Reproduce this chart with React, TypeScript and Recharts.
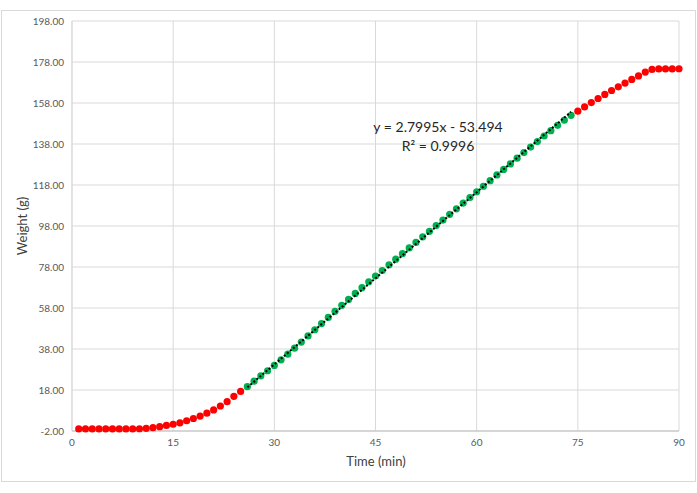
import {
    ScatterChart,
    Scatter,
    XAxis,
    YAxis,
    CartesianGrid,
} from "recharts";

// minutes 1..90, one reading per minute
const minutes = [
    1, 2, 3, 4, 5, 6, 7, 8, 9, 10, 11, 12, 13, 14, 15, 16, 17, 18, 19, 20,
    21, 22, 23, 24, 25, 26, 27, 28, 29, 30, 31, 32, 33, 34, 35, 36, 37, 38, 39, 40,
    41, 42, 43, 44, 45, 46, 47, 48, 49, 50, 51, 52, 53, 54, 55, 56, 57, 58, 59, 60,
    61, 62, 63, 64, 65, 66, 67, 68, 69, 70, 71, 72, 73, 74, 75, 76, 77, 78, 79, 80,
    81, 82, 83, 84, 85, 86, 87, 88, 89, 90,
];

const weights = [
    -1.0, -1.0, -1.0, -1.0, -1.0, -1.0, -1.0, -1.0, -1.0, -0.9,
    -0.7, -0.4, 0.1, 0.7, 1.3, 2.0, 3.0, 4.1, 5.3, 6.7,
    8.3, 10.2, 12.3, 14.9, 17.3, 19.6, 22.3, 24.9, 27.4, 30.0,
    32.7, 35.5, 38.4, 41.4, 44.4, 47.4, 50.4, 53.4, 56.4, 59.3,
    62.2, 65.1, 67.9, 70.8, 73.6, 76.3, 79.1, 81.8, 84.5, 87.3,
    90.0, 92.7, 95.4, 98.2, 100.9, 103.7, 106.4, 109.2, 111.9, 114.7,
    117.4, 120.1, 122.9, 125.6, 128.3, 131.1, 133.8, 136.5, 139.2, 141.9,
    144.5, 147.1, 149.6, 152.0, 154.0, 156.1, 158.2, 160.2, 162.2, 164.1,
    165.9, 167.7, 169.5, 171.2, 173.1, 174.4, 174.6, 174.6, 174.6, 174.7,
];

// linear part used for the fit (green)
const FIT_START = 26;
const FIT_END = 74;
const SLOPE = 2.7995;
const INTERCEPT = -53.494;

const xTicks = [0, 15, 30, 45, 60, 75, 90];
const yTicks = [-2, 18, 38, 58, 78, 98, 118, 138, 158, 178, 198];

const points = minutes.map((m, i) => ({ x: m, y: weights[i] }));
const before = points.filter((p) => p.x < FIT_START);
const linear = points.filter((p) => p.x >= FIT_START && p.x <= FIT_END);
const after = points.filter((p) => p.x > FIT_END);
const trend = [FIT_START, FIT_END].map((x) => ({ x, y: SLOPE * x + INTERCEPT }));

const dot = (color: string) => (p: any) =>
    <circle cx={p.cx} cy={p.cy} r={3.6} fill={color} />;

const font = "Lato, 'Open Sans', sans-serif";

export default function App() {
    return (
        <div style={{ position: "absolute", left: 0, top: 0, width: 697, height: 493, fontFamily: font }}>
            {/* outer chart border */}
            <div
                style={{
                    position: "absolute",
                    left: 1,
                    top: 10,
                    width: 695,
                    height: 472,
                    border: "1px solid #d9d9d9",
                    boxSizing: "border-box",
                }}
            />
            <div style={{ position: "absolute", left: 0, top: 0 }}>
                <ScatterChart width={697} height={493} margin={{ top: 21, right: 18, left: 8, bottom: 22 }}>
                    <CartesianGrid stroke="#d9d9d9" />
                    <XAxis
                        type="number"
                        dataKey="x"
                        domain={[0, 90]}
                        ticks={xTicks}
                        height={40}
                        tickLine={false}
                        axisLine={{ stroke: "#bfbfbf" }}
                        tick={{ fontSize: 10, fill: "#595959", fontFamily: font }}
                    />
                    <YAxis
                        type="number"
                        dataKey="y"
                        domain={[-2, 198]}
                        ticks={yTicks}
                        width={64}
                        tickLine={false}
                        axisLine={{ stroke: "#d9d9d9" }}
                        tickFormatter={(v: number) => v.toFixed(2)}
                        tick={{ fontSize: 10, fill: "#595959", fontFamily: font }}
                    />
                    <Scatter data={before} shape={dot("#ff0000")} isAnimationActive={false} />
                    <Scatter data={after} shape={dot("#ff0000")} isAnimationActive={false} />
                    <Scatter data={linear} shape={dot("#00b050")} isAnimationActive={false} />
                    <Scatter
                        data={trend}
                        line={{ stroke: "#000", strokeWidth: 2, strokeDasharray: "2 2" }}
                        shape={() => <g />}
                        isAnimationActive={false}
                    />
                </ScatterChart>
            </div>

            {/* axis titles */}
            <div
                style={{
                    position: "absolute",
                    left: 276,
                    width: 200,
                    top: 452,
                    textAlign: "center",
                    fontSize: 13,
                    lineHeight: "18px",
                    color: "#404040",
                }}
            >
                Time (min)
            </div>
            <div
                style={{
                    position: "absolute",
                    left: 22 - 100,
                    width: 200,
                    top: 226 - 9,
                    textAlign: "center",
                    fontSize: 13,
                    lineHeight: "18px",
                    color: "#404040",
                    transform: "rotate(-90deg)",
                }}
            >
                Weight (g)
            </div>

            {/* trendline equation */}
            <div
                style={{
                    position: "absolute",
                    left: 338,
                    width: 200,
                    top: 117,
                    textAlign: "center",
                    fontSize: 14,
                    lineHeight: "19px",
                    color: "#262626",
                }}
            >
                <div>y = 2.7995x - 53.494</div>
                <div>R² = 0.9996</div>
            </div>
        </div>
    );
}
